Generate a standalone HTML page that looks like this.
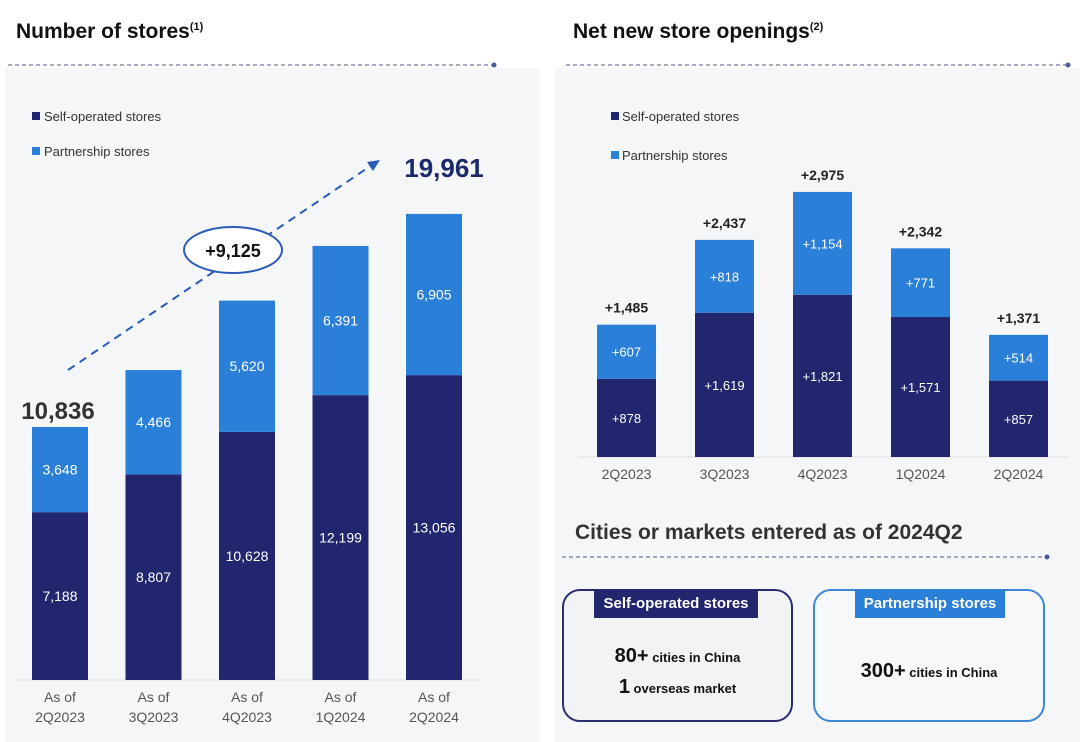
<!DOCTYPE html>
<html><head><meta charset="utf-8"><style>
body{margin:0;width:1080px;height:742px;background:#fff;font-family:"Liberation Sans","DejaVu Sans",sans-serif;overflow:hidden;position:relative}
.t{position:absolute;font-weight:bold;color:#111}
svg{position:absolute;left:0;top:0}
</style></head><body>
<div style="position:absolute;left:5px;top:68px;width:535px;height:674px;background:#f5f6f8"></div>
<div style="position:absolute;left:555px;top:68px;width:525px;height:674px;background:#f5f6f8"></div>
<div class="t" style="left:16px;top:20px;font-size:21px">Number of stores<sup style="font-size:11px">(1)</sup></div>
<div class="t" style="left:573px;top:20px;font-size:21px">Net new store openings<sup style="font-size:11px">(2)</sup></div>
<div class="t" style="left:575px;top:521px;font-size:21px;color:#333">Cities or markets entered as of 2024Q2</div>
<svg width="1080" height="742" id="chart">
<line x1="8" y1="65" x2="494" y2="65" stroke="#4a5a9a" stroke-dasharray="4,3"/><circle cx="494" cy="65" r="2.5" fill="#4a5a9a"/>
<line x1="566" y1="65" x2="1068" y2="65" stroke="#4a5a9a" stroke-dasharray="4,3"/><circle cx="1068" cy="65" r="2.5" fill="#4a5a9a"/>
<line x1="562" y1="557" x2="1047" y2="557" stroke="#4a5a9a" stroke-dasharray="4,3"/><circle cx="1047" cy="557" r="2.5" fill="#4a5a9a"/>
<g>
<rect x="32" y="112" width="8" height="8" fill="#21266f"/><text x="44" y="121" font-size="13" fill="#333">Self-operated stores</text>
<rect x="32" y="147" width="8" height="8" fill="#2a7fd8"/><text x="44" y="156" font-size="13" fill="#333">Partnership stores</text></g>
<g>
<rect x="611" y="112" width="8" height="8" fill="#21266f"/><text x="622" y="121" font-size="13" fill="#333">Self-operated stores</text>
<rect x="611" y="151" width="8" height="8" fill="#2a7fd8"/><text x="622" y="160" font-size="13" fill="#333">Partnership stores</text></g>
<line x1="68" y1="370" x2="372" y2="165" stroke="#2a5bb8" stroke-width="2" stroke-dasharray="8,6"/>
<polygon points="380,160 367,162 373,171" fill="#2a5bb8"/>
<ellipse cx="233" cy="250" rx="49" ry="23" fill="#fff" stroke="#2a5bb8" stroke-width="2"/>
<text x="233" y="257" font-size="18" font-weight="bold" text-anchor="middle" fill="#111">+9,125</text>
<line x1="14" y1="680" x2="480" y2="680" stroke="#ddd"/>
<line x1="578" y1="457" x2="1068" y2="457" stroke="#ddd"/>
<g id="lg"></g><g id="rg"></g>
</svg>
<div style="position:absolute;left:562px;top:589px;width:227px;height:129px;border:2px solid #2a2d6e;border-radius:18px;background:#f2f3f5"></div>
<div style="position:absolute;left:594px;top:589px;width:164px;height:29px;background:#21266f;color:#fff;font-weight:bold;font-size:15px;text-align:center;line-height:29px">Self-operated stores</div>
<div class="t" style="left:562px;top:645px;width:231px;text-align:center;font-size:13px"><span style="font-size:20px">80+</span> cities in China</div>
<div class="t" style="left:562px;top:676px;width:231px;text-align:center;font-size:13px"><span style="font-size:20px">1</span> overseas market</div>
<div style="position:absolute;left:813px;top:589px;width:228px;height:129px;border:2px solid #3b86d6;border-radius:18px;background:#f7f8fa"></div>
<div style="position:absolute;left:855px;top:589px;width:150px;height:29px;background:#2a7fd8;color:#fff;font-weight:bold;font-size:15px;text-align:center;line-height:29px">Partnership stores</div>
<div class="t" style="left:813px;top:660px;width:232px;text-align:center;font-size:13px"><span style="font-size:20px">300+</span> cities in China</div>
<script>
const leftCats=["2Q2023","3Q2023","4Q2023","1Q2024","2Q2024"];
const leftSelf=[7188,8807,10628,12199,13056];
const leftPartner=[3648,4466,5620,6391,6905];
const rightCats=["2Q2023","3Q2023","4Q2023","1Q2024","2Q2024"];
const rightSelf=[878,1619,1821,1571,857];
const rightPartner=[607,818,1154,771,514];
const fmt=v=>v.toLocaleString('en-US');
const NS="http://www.w3.org/2000/svg";
function mk(tag,attrs,parent){const e=document.createElementNS(NS,tag);for(const k in attrs)e.setAttribute(k,attrs[k]);parent.appendChild(e);return e;}
function txt(parent,x,y,s,size,fill,weight){const t=mk('text',{x:x,y:y,'font-size':size,fill:fill,'text-anchor':'middle','font-weight':weight||'normal'},parent);t.textContent=s;return t;}
// left chart
const lg=document.getElementById('lg');
const lX=i=>32+i*93.5, lW=56, lBase=680, lY=v=>lBase-v*0.02335;
leftCats.forEach((c,i)=>{
  const x=lX(i),s=leftSelf[i],p=leftPartner[i];
  const r1=mk('rect',{x:x,y:lY(s),width:lW,height:lBase-lY(s),fill:'#21266f'},lg);
  
  
  const r2=mk('rect',{x:x,y:lY(s+p),width:lW,height:lY(s)-lY(s+p),fill:'#2a7fd8'},lg);
  
  
  txt(lg,x+lW/2,(lY(s)+lBase)/2+5,fmt(s),14,'#fff');
  txt(lg,x+lW/2,(lY(s)+lY(s+p))/2+5,fmt(p),14,'#fff');
  txt(lg,x+lW/2,702,'As of',14,'#555');
  txt(lg,x+lW/2,722,c,14,'#555');
});
const t0=txt(lg,lX(0)+lW/2-2,lY(leftSelf[0]+leftPartner[0])-8,fmt(leftSelf[0]+leftPartner[0]),24,'#333','bold');


const n=leftCats.length-1;
const t1=txt(lg,lX(n)+lW/2+10,lY(leftSelf[n]+leftPartner[n])-37,fmt(leftSelf[n]+leftPartner[n]),26,'#1b2a6b','bold');


// right chart
const rg=document.getElementById('rg');
const rX=i=>597+i*98, rW=59, rBase=457, rY=v=>rBase-v*0.0891;
rightCats.forEach((c,i)=>{
  const x=rX(i),s=rightSelf[i],p=rightPartner[i];
  const r1=mk('rect',{x:x,y:rY(s),width:rW,height:rBase-rY(s),fill:'#21266f'},rg);
  
  
  const r2=mk('rect',{x:x,y:rY(s+p),width:rW,height:rY(s)-rY(s+p),fill:'#2a7fd8'},rg);
  
  
  txt(rg,x+rW/2,(rY(s)+rBase)/2+5,'+'+fmt(s),13,'#fff');
  txt(rg,x+rW/2,(rY(s)+rY(s+p))/2+5,'+'+fmt(p),13,'#fff');
  const tt=txt(rg,x+rW/2,rY(s+p)-12,'+'+fmt(s+p),14,'#222','bold');
  
  
  txt(rg,x+rW/2,479,c,14,'#555');
});
</script>
</body></html>
